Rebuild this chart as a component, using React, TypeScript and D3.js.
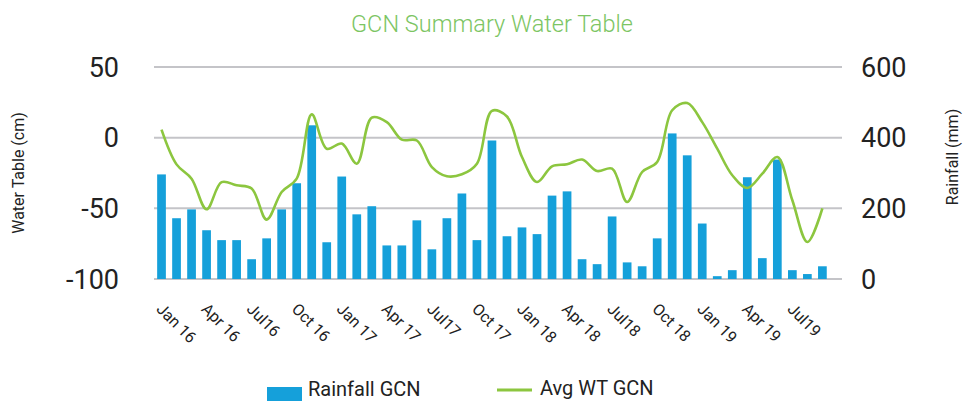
import * as d3 from "d3";

const months = [
  "2016-01","2016-02","2016-03","2016-04","2016-05","2016-06","2016-07","2016-08","2016-09","2016-10","2016-11","2016-12",
  "2017-01","2017-02","2017-03","2017-04","2017-05","2017-06","2017-07","2017-08","2017-09","2017-10","2017-11","2017-12",
  "2018-01","2018-02","2018-03","2018-04","2018-05","2018-06","2018-07","2018-08","2018-09","2018-10","2018-11","2018-12",
  "2019-01","2019-02","2019-03","2019-04","2019-05","2019-06","2019-07","2019-08","2019-09",
];

// mm
const rainfall = [
  296, 172, 197, 138, 110, 110, 56, 115, 197, 271, 435, 104,
  290, 183, 206, 95, 95, 166, 84, 172, 242, 110, 392, 121,
  146, 127, 236, 248, 56, 42, 177, 47, 36, 115, 412, 350,
  157, 8, 25, 288, 59, 338, 25, 14, 36,
];

// cm
const avgWT = [
  5.7, -18.9, -29, -50.7, -31.5, -33.7, -36, -58, -38.4, -29, 16.5, -7.8,
  -4.2, -18.4, 14.2, 11, -1.4, -2, -20.8, -27.3, -25.9, -18.4, 19, 15,
  -13.7, -31.4, -20.3, -18.8, -15.5, -23.6, -21.9, -45.5, -24.3, -17.2, 19.4, 24.5,
  11, -7.8, -26.6, -35.6, -25.5, -13.7, -44.3, -73.8, -50,
];

const tickLabels = [
  "Jan 16","Apr 16","Jul16","Oct 16","Jan 17","Apr 17","Jul17","Oct 17",
  "Jan 18","Apr 18","Jul18","Oct 18","Jan 19","Apr 19","Jul19",
];

const leftTicks = [50, 0, -50, -100];
const rightTicks = [600, 400, 200, 0];

const W = 963;
const H = 401;
const plot = { left: 154, right: 842, top: 67, bottom: 279 };
const FONT = "Roboto, 'Open Sans', sans-serif";
const BLUE = "#15a0da";
const GREEN = "#8cc63f";
const GRID = "#c4c4c8";

export default function App() {
  const x = d3
    .scaleBand<string>()
    .domain(months)
    .range([plot.left, plot.left + months.length * 15.02])
    .paddingInner(0.42)
    .paddingOuter(0.21);

  const yL = d3.scaleLinear().domain([-100, 50]).range([plot.bottom, plot.top]);
  const yR = d3.scaleLinear().domain([0, 600]).range([plot.bottom, plot.top]);

  const cx = (m: string) => (x(m) ?? 0) + x.bandwidth() / 2;

  const line = d3
    .line<number>()
    .x((_, i) => cx(months[i]))
    .y((d) => yL(d))
    .curve(d3.curveCatmullRom.alpha(0.5));

  return (
    <svg
      width={W}
      height={H}
      style={{ position: "absolute", left: 0, top: 0, background: "#fff" }}
      fontFamily={FONT}
    >
      <text x={492} y={32} textAnchor="middle" fontSize={23.5} fill="#7cc563" fontWeight={300}>
        GCN Summary Water Table
      </text>

      {/* gridlines */}
      {leftTicks.map((t) => (
        <line key={t} x1={plot.left} x2={plot.right} y1={yL(t)} y2={yL(t)} stroke={GRID} strokeWidth={2} />
      ))}

      {/* bars */}
      {rainfall.map((v, i) => (
        <rect
          key={months[i]}
          x={x(months[i])}
          y={yR(v)}
          width={x.bandwidth()}
          height={yR(0) - yR(v)}
          fill={BLUE}
        />
      ))}

      <path d={line(avgWT) ?? ""} fill="none" stroke={GREEN} strokeWidth={2.6} />

      {/* left axis */}
      {leftTicks.map((t) => (
        <text key={t} x={119} y={yL(t)} dy="0.36em" textAnchor="end" fontSize={27} fill="#222">
          {t}
        </text>
      ))}
      <text
        transform={`translate(24,${(plot.top + plot.bottom) / 2}) rotate(-90)`}
        textAnchor="middle"
        fontSize={16}
        fill="#222"
      >
        Water Table (cm)
      </text>

      {/* right axis */}
      {rightTicks.map((t) => (
        <text key={t} x={861} y={yR(t)} dy="0.36em" textAnchor="start" fontSize={27} fill="#222">
          {t}
        </text>
      ))}
      <text
        transform={`translate(958,${(plot.top + plot.bottom) / 2 - 16}) rotate(-90)`}
        textAnchor="middle"
        fontSize={16}
        fill="#222"
      >
        Rainfall (mm)
      </text>

      {/* x tick labels */}
      {tickLabels.map((lab, k) => {
        const m = months[k * 3];
        return (
          <text
            key={lab}
            transform={`translate(${cx(m) - 2},${plot.bottom + 27}) rotate(45)`}
            dy="0.35em"
            fontSize={16}
            fill="#222"
          >
            {lab}
          </text>
        );
      })}

      {/* legend */}
      <rect x={267} y={387} width={35} height={14} fill={BLUE} />
      <text x={308} y={396} fontSize={20} fill="#222">
        Rainfall GCN
      </text>
      <line x1={497} x2={532} y1={390} y2={390} stroke={GREEN} strokeWidth={3} />
      <text x={540} y={395} fontSize={20} fill="#222">
        Avg WT GCN
      </text>
    </svg>
  );
}
